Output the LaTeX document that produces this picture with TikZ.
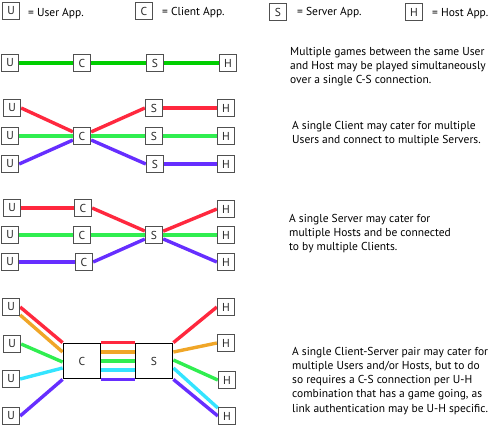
\documentclass[tikz,border=0pt]{standalone}
\usepackage{fontspec}
\setmainfont{PT Sans}
\usetikzlibrary{calc}
\pgfdeclarelayer{bg}
\pgfsetlayers{bg,main}
\definecolor{boxgray}{RGB}{80,80,80}
\definecolor{txtgray}{RGB}{40,40,40}
\definecolor{gA}{RGB}{0,206,0}
\definecolor{gB}{RGB}{48,238,80}
\definecolor{rr}{RGB}{255,40,62}
\definecolor{pp}{RGB}{102,46,255}
\definecolor{oo}{RGB}{240,166,40}
\definecolor{cc}{RGB}{52,228,255}
\tikzset{
  sbox/.style={draw=boxgray, line width=1.3pt, minimum width=17pt, minimum height=17pt, inner sep=0pt, fill=white, font=\fontsize{11.5}{14}\selectfont, text=txtgray},
  bbox/.style={draw=black, line width=1.8pt, minimum width=37pt, minimum height=35pt, inner sep=0pt, fill=white, font=\fontsize{11.5}{14}\selectfont, text=txtgray},
  conn/.style={line width=3.4pt},
  desc/.style={anchor=north west, align=left, inner sep=0pt, font=\fontsize{11.5}{14.2}\selectfont, text=black},
  leg/.style={anchor=base west, inner sep=0pt, font=\fontsize{11.5}{14}\selectfont, text=black}
}
\begin{document}
\begin{tikzpicture}[x=1pt,y=-1pt]
\useasboundingbox (0,0) rectangle (497,426);
% legend
\node[sbox] (LU) at (11,11) {U};
\node[leg] (LUt) at (28,16) {= User App.};
\node[sbox] (LC) at (144,11) {C};
\node[leg] (LCt) at (162,15) {= Client App.};
\node[sbox] (LS) at (278,12) {S};
\node[leg] (LSt) at (297,15) {= Server App.};
\node[sbox] (LH) at (414,12) {H};
\node[leg] (LHt) at (432,16) {= Host App.};
% row 1
\node[sbox] (aU) at (10,63) {U};
\node[sbox] (aC) at (82,63) {C};
\node[sbox] (aS) at (155,63) {S};
\node[sbox] (aH) at (228,63) {H};
\begin{pgfonlayer}{bg}
\draw[conn,gA] (aU.east) -- (aC.west);
\draw[conn,gA] (aC.east) -- (aS.west);
\draw[conn,gA] (aS.east) -- (aH.west);
\end{pgfonlayer}
\node[desc] (aT) at (290,47) {Multiple games between the same User\\and Host may be played simultaneously\\over a single C-S connection.};
% row 2
\node[sbox] (bU1) at (12,108) {U};
\node[sbox] (bU2) at (10,136) {U};
\node[sbox] (bU3) at (10,164) {U};
\node[sbox] (bC) at (82,136) {C};
\node[sbox] (bS1) at (154,108) {S};
\node[sbox] (bS2) at (154,136) {S};
\node[sbox] (bS3) at (155,164) {S};
\node[sbox] (bH1) at (226,108) {H};
\node[sbox] (bH2) at (226,136) {H};
\node[sbox] (bH3) at (226,164) {H};
\begin{pgfonlayer}{bg}
\draw[conn,rr] (bU1.east) -- (bC);
\draw[conn,gB] (bU2.east) -- (bC.west);
\draw[conn,pp] (bU3.east) -- (bC);
\draw[conn,rr] (bC) -- (bS1.west);
\draw[conn,gB] (bC.east) -- (bS2.west);
\draw[conn,pp] (bC) -- (bS3.west);
\draw[conn,rr] (bS1.east) -- (bH1.west);
\draw[conn,gB] (bS2.east) -- (bH2.west);
\draw[conn,pp] (bS3.east) -- (bH3.west);
\end{pgfonlayer}
\node[desc] (bT) at (292,121) {A single Client may cater for multiple\\Users and connect to multiple Servers.};
% row 3
\node[sbox] (cU1) at (12,208) {U};
\node[sbox] (cU2) at (10,235) {U};
\node[sbox] (cU3) at (10,262) {U};
\node[sbox] (cC1) at (83,208) {C};
\node[sbox] (cC2) at (82,235) {C};
\node[sbox] (cC3) at (84,262) {C};
\node[sbox] (cS) at (154,235) {S};
\node[sbox] (cH1) at (226,209) {H};
\node[sbox] (cH2) at (226,235) {H};
\node[sbox] (cH3) at (226,262) {H};
\begin{pgfonlayer}{bg}
\draw[conn,rr] (cU1.east) -- (cC1.west);
\draw[conn,gB] (cU2.east) -- (cC2.west);
\draw[conn,pp] (cU3.east) -- (cC3.west);
\draw[conn,rr] (cC1.east) -- (cS);
\draw[conn,gB] (cC2.east) -- (cS.west);
\draw[conn,pp] (cC3.east) -- (cS);
\draw[conn,rr] (cS) -- (cH1.west);
\draw[conn,gB] (cS.east) -- (cH2.west);
\draw[conn,pp] (cS) -- (cH3.west);
\end{pgfonlayer}
\node[desc] (cT) at (289,214) {A single Server may cater for\\multiple Hosts and be connected\\to by multiple Clients.};
% row 4
\node[sbox] (dU1) at (11,307) {U};
\node[sbox] (dU2) at (12,344) {U};
\node[sbox] (dU3) at (11,379) {U};
\node[sbox] (dU4) at (11,416) {U};
\node[bbox] (dC) at (82,361) {C};
\node[bbox] (dS) at (154,361) {S};
\node[sbox] (dH1) at (226,307) {H};
\node[sbox] (dH2) at (226,343) {H};
\node[sbox] (dH3) at (227,380) {H};
\node[sbox] (dH4) at (227,416) {H};
\begin{pgfonlayer}{bg}
\draw[conn,rr] (dU1.east) -- (dC.north west);
\draw[conn,oo] ([yshift=-8pt]dU1.east) -- ([yshift=9pt]dC.west);
\draw[conn,gB] (dU2.east) -- ([yshift=-1pt]dC.west);
\draw[conn,cc] (dU3.east) -- ([yshift=-7pt]dC.west);
\draw[conn,pp] (dU4.east) -- (dC.south west);
\draw[conn,rr] (dC.north east) -- (dS.north west);
\draw[conn,oo] ([yshift=9pt]dC.east) -- ([yshift=9pt]dS.west);
\draw[conn,gB] (dC.east) -- (dS.west);
\draw[conn,cc] ([yshift=-9pt]dC.east) -- ([yshift=-9pt]dS.west);
\draw[conn,pp] (dC.south east) -- (dS.south west);
\draw[conn,rr] (dS.north east) -- (dH1.west);
\draw[conn,oo] ([yshift=9pt]dS.east) -- (dH2.west);
\draw[conn,gB] ([yshift=1pt]dS.east) -- (dH3.west);
\draw[conn,cc] ([yshift=-7pt]dS.east) -- ([yshift=8pt]dH4.west);
\draw[conn,pp] (dS.south east) -- (dH4.west);
\end{pgfonlayer}
\node[desc] (dT) at (292,347) {A single Client-Server pair may cater for\\multiple Users and/or Hosts, but to do\\so requires a C-S connection per U-H\\combination that has a game going, as\\link authentication may be U-H specific.};
\end{tikzpicture}
\end{document}
